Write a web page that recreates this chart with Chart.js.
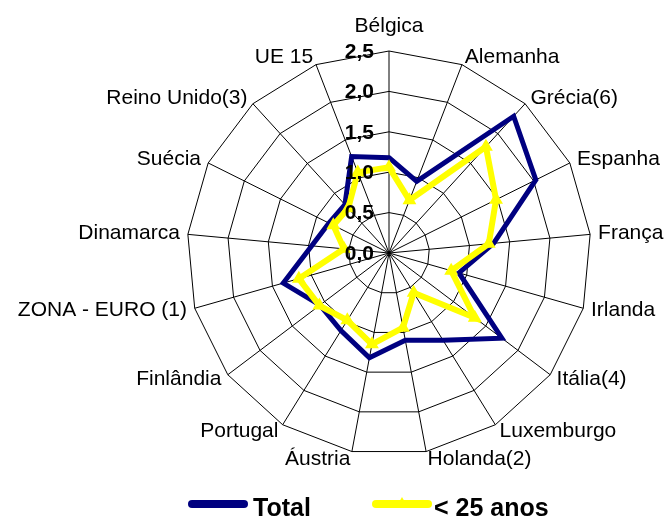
<!DOCTYPE html>
<html>
<head>
<meta charset="utf-8">
<script src="https://cdn.jsdelivr.net/npm/chart.js@4.4.1/dist/chart.umd.min.js"></script>
<style>
    body { margin: 0; background: #fff; }
    .chart-container { position: relative; width: 666px; height: 518px; }
</style>
</head>
<body>
<div class="chart-container"><canvas id="radarChart"></canvas></div>
<script>
const countries = [
    "Bélgica", "Alemanha", "Grécia(6)", "Espanha", "França", "Irlanda",
    "Itália(4)", "Luxemburgo", "Holanda(2)", "Áustria", "Portugal",
    "Finlândia", "ZONA - EURO (1)", "Dinamarca", "Suécia", "Reino Unido(3)", "UE 15",
];
const total = [1.18, 0.95, 2.29, 2.03, 1.30, 0.90, 1.75, 1.27, 1.10, 1.32, 1.13, 1.07, 1.36, 0.96, 0.83, 0.81, 1.28];
const under25 = [1.06, 0.70, 1.78, 1.48, 1.24, 0.80, 1.33, 0.58, 0.94, 1.15, 0.98, 1.08, 1.16, 0.56, 0.77, 0.75, 1.07];
const tickValues = [0, 0.5, 1, 1.5, 2, 2.5];
const tickLabels = ["0,0", "0,5", "1,0", "1,5", "2,0", "2,5"];
const seriesNames = ["Total", "< 25 anos"];
const seriesColors = ["#000080", "#FFFF00"];

const FONT = '"Liberation Sans", Arial, sans-serif';

// value labels sit just left of the vertical axis, on top of the lines
const tickLabelsPlugin = {
    id: "tickLabels",
    afterDatasetsDraw(chart) {
        const scale = chart.scales.r;
        const ctx = chart.ctx;
        ctx.save();
        ctx.font = "bold 21px " + FONT;
        ctx.fillStyle = "#000";
        ctx.textAlign = "right";
        ctx.textBaseline = "middle";
        tickValues.forEach((v, i) => {
            const y = scale.yCenter - scale.getDistanceFromCenterForValue(v);
            ctx.fillText(tickLabels[i], scale.xCenter - 15, y + 1);
        });
        ctx.restore();
    },
};

// country names, centred on their spoke like the excel original
const countryLabelsPlugin = {
    id: "countryLabels",
    afterDraw(chart) {
        const scale = chart.scales.r;
        const ctx = chart.ctx;
        const labels = chart.data.labels;
        ctx.save();
        ctx.font = "21px " + FONT;
        ctx.fillStyle = "#000";
        ctx.textBaseline = "middle";
        labels.forEach((name, i) => {
            const pad = i === 0 ? 25 : 8;
            const p = scale.getPointPosition(i, scale.drawingArea + pad);
            const deg = Math.round((i * 360) / labels.length);
            ctx.textAlign = deg === 0 || deg === 180 ? "center" : deg < 180 ? "left" : "right";
            ctx.fillText(name, p.x, p.y);
        });
        ctx.restore();
    },
};

// legend: thick line samples, the young series with its triangle
const lineLegendPlugin = {
    id: "lineLegend",
    afterDraw(chart) {
        const ctx = chart.ctx;
        const y = 504;
        const items = [
            { x: 188, gap: 5 },
            { x: 372, gap: 2 },
        ];
        ctx.save();
        ctx.font = "bold 25px " + FONT;
        ctx.textBaseline = "alphabetic";
        ctx.textAlign = "left";
        items.forEach((item, i) => {
            ctx.strokeStyle = seriesColors[i];
            ctx.lineWidth = 8;
            ctx.lineCap = "round";
            ctx.beginPath();
            ctx.moveTo(item.x + 4, y);
            ctx.lineTo(item.x + 56, y);
            ctx.stroke();
            if (i === 1) {
                ctx.fillStyle = seriesColors[i];
                Chart.helpers.drawPoint(ctx, { pointStyle: "triangle", radius: 7, rotation: 0, borderWidth: 0 }, item.x + 30, y);
            }
            ctx.fillStyle = "#000";
            ctx.fillText(seriesNames[i], item.x + 60 + item.gap, 516);
        });
        ctx.restore();
    },
};

const ctx = document.getElementById("radarChart").getContext("2d");

new Chart(ctx, {
    type: "radar",
    data: {
        labels: countries,
        datasets: [
            {
                label: seriesNames[0],
                data: total,
                borderColor: seriesColors[0],
                backgroundColor: seriesColors[0],
                borderWidth: 5,
                borderJoinStyle: "miter",
                pointRadius: 0,
                fill: false,
                order: 1,
            },
            {
                label: seriesNames[1],
                data: under25,
                borderColor: seriesColors[1],
                backgroundColor: seriesColors[1],
                borderWidth: 6,
                borderJoinStyle: "miter",
                pointStyle: "triangle",
                pointRadius: 6,
                pointBorderWidth: 2,
                fill: false,
                order: 0,
            },
        ],
    },
    options: {
        responsive: true,
        maintainAspectRatio: false,
        animation: false,
        layout: {
            padding: { left: 187, right: 75, top: 51, bottom: 63 },
        },
        plugins: {
            legend: { display: false },
            tooltip: { enabled: false },
        },
        scales: {
            r: {
                min: 0,
                max: 2.5,
                ticks: { display: false, stepSize: 0.5 },
                grid: { color: "#000", lineWidth: 1 },
                angleLines: { color: "#000", lineWidth: 1 },
                pointLabels: { display: false },
            },
        },
    },
    plugins: [tickLabelsPlugin, countryLabelsPlugin, lineLegendPlugin],
});
</script>
</body>
</html>
